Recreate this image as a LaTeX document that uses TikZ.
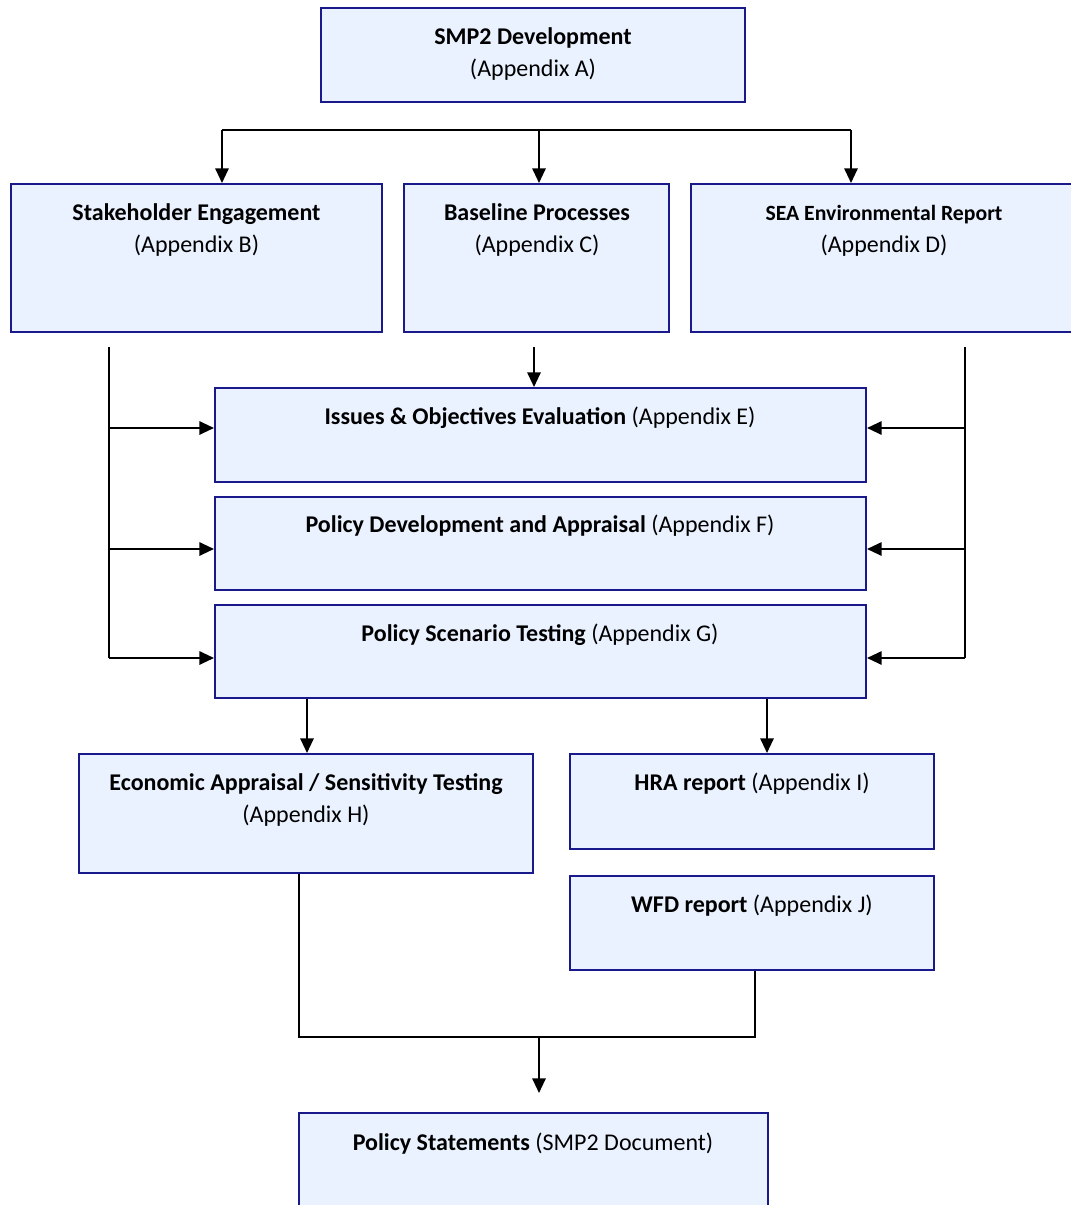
\documentclass[tikz,border=0pt]{standalone}
\usepackage{fontspec}
\setmainfont{Carlito}
\usetikzlibrary{arrows.meta,fit}
\definecolor{boxfill}{RGB}{235,242,255}
\definecolor{boxline}{RGB}{25,25,140}
\tikzset{
  box/.style={draw=boxline,fill=boxfill,line width=1.5pt,inner sep=0pt,rectangle},
  txt/.style={inner sep=0pt,anchor=base,font=\fontsize{18}{21}\selectfont},
  smalltxt/.style={inner sep=0pt,anchor=base,font=\fontsize{16.3}{19}\selectfont},
  conn/.style={draw=black,line width=1.5pt},
  arr/.style={conn,-{Triangle[length=11pt,width=10pt]}}
}
\begin{document}
\begin{tikzpicture}[x=0.75pt,y=-0.75pt]
\useasboundingbox (0,0) rectangle (1070,1205);
% boxes
\node[box,fit={(321,8) (745,102)}] (A) {};
\node[box,fit={(11,184) (382,332)}] (B) {};
\node[box,fit={(404,184) (669,332)}] (C) {};
\node[box,fit={(691,184) (1078,332)}] (D) {};
\node[box,fit={(215,388) (866,482)}] (E) {};
\node[box,fit={(215,497) (866,590)}] (F) {};
\node[box,fit={(215,605) (866,698)}] (G) {};
\node[box,fit={(79,754) (533,873)}] (H) {};
\node[box,fit={(570,754) (934,849)}] (I) {};
\node[box,fit={(570,876) (934,970)}] (J) {};
\node[box,fit={(299,1113) (768,1215)}] (K) {};
% texts
\node[txt] (tA1) at (533,45) {\textbf{SMP2 Development}};
\node[txt] (tA2) at (533,77) {(Appendix A)};
\node[txt] (tB1) at (196.5,221) {\textbf{Stakeholder Engagement}};
\node[txt] (tB2) at (196.5,253) {(Appendix B)};
\node[txt] (tC1) at (537,221) {\textbf{Baseline Processes}};
\node[txt] (tC2) at (537,253) {(Appendix C)};
\node[smalltxt] (tD1) at (884,221) {\textbf{SEA Environmental Report}};
\node[txt] (tD2) at (884,253) {(Appendix D)};
\node[txt] (tE) at (540,424) {\textbf{Issues \& Objectives Evaluation} (Appendix E)};
\node[txt] (tF) at (540,532) {\textbf{Policy Development and Appraisal} (Appendix F)};
\node[txt] (tG) at (540,641) {\textbf{Policy Scenario Testing} (Appendix G)};
\node[txt] (tH1) at (306,790) {\textbf{Economic Appraisal / Sensitivity Testing}};
\node[txt] (tH2) at (306,822) {(Appendix H)};
\node[txt] (tI) at (752,790) {\textbf{HRA report} (Appendix I)};
\node[txt] (tJ) at (752,912) {\textbf{WFD report} (Appendix J)};
\node[txt] (tK) at (533,1150) {\textbf{Policy Statements} (SMP2 Document)};
% top bus
\coordinate (t1) at (222,130);
\coordinate (t2) at (539,130);
\coordinate (t3) at (851,130);
\draw[conn] (t1) -- (t3);
\draw[arr] (t1) -- (t1 |- B.north);
\draw[arr] (t2) -- (t2 |- C.north);
\draw[arr] (t3) -- (t3 |- D.north);
% C to E
\coordinate (c0) at (534,347);
\draw[arr] (c0) -- (c0 |- E.north);
% left bus
\coordinate (L0) at (109,347);
\coordinate (L1) at (109,428);
\coordinate (L2) at (109,549);
\coordinate (L3) at (109,658);
\draw[conn] (L0) -- (L3);
\draw[arr] (L1) -- (L1 -| E.west);
\draw[arr] (L2) -- (L2 -| F.west);
\draw[arr] (L3) -- (L3 -| G.west);
% right bus
\coordinate (R0) at (965,347);
\coordinate (R1) at (965,428);
\coordinate (R2) at (965,549);
\coordinate (R3) at (965,658);
\draw[conn] (R0) -- (R3);
\draw[arr] (R1) -- (R1 -| E.east);
\draw[arr] (R2) -- (R2 -| F.east);
\draw[arr] (R3) -- (R3 -| G.east);
% G to H, I
\coordinate (g1) at (307,698);
\coordinate (g2) at (767,698);
\draw[arr] (g1 |- G.south) -- (g1 |- H.north);
\draw[arr] (g2 |- G.south) -- (g2 |- I.north);
% H, J to K
\coordinate (h1) at (299,1037);
\coordinate (j1) at (755,1037);
\coordinate (m1) at (539,1037);
\coordinate (m2) at (539,1093);
\draw[conn] (h1 |- H.south) -- (h1) -- (j1) -- (j1 |- J.south);
\draw[arr] (m1) -- (m2);
\end{tikzpicture}
\end{document}
